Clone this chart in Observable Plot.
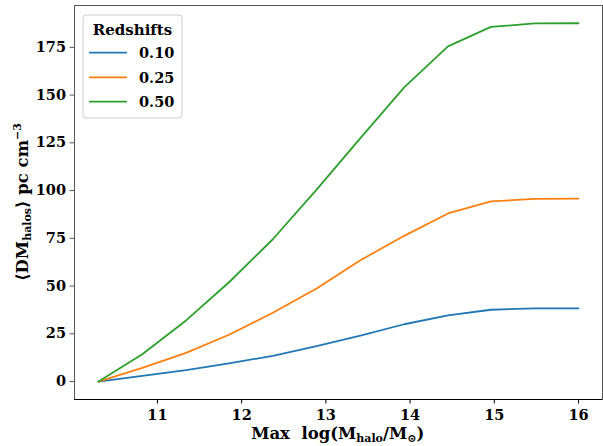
<!DOCTYPE html>
<html><head><meta charset="utf-8">
<script src="https://cdn.jsdelivr.net/npm/d3@7"></script>
<script src="https://cdn.jsdelivr.net/npm/@observablehq/plot@0.6"></script>
<style>body{margin:0;background:#fff}</style>
</head><body><div id="chart"></div>
<script>
const redshifts = ["0.10", "0.25", "0.50"];
const colors = ["#1f77b4", "#ff7f0e", "#2ca02c"];
const logMmax = [10.30, 10.82, 11.34, 11.85, 12.37, 12.89, 13.41, 13.93, 14.45, 14.96, 15.48, 16.00];
const dm010 = [0, 3.0, 6.0, 9.5, 13.5, 18.5, 24.0, 30.0, 34.6, 37.6, 38.3, 38.3];
const dm025 = [0, 7.2, 15.0, 24.5, 36.0, 48.7, 63.5, 76.3, 88.0, 94.3, 95.7, 95.8];
const dm050 = [0, 14.3, 32.0, 52.0, 74.5, 100.5, 127.5, 154.0, 175.5, 185.7, 187.5, 187.6];
const yTicks = [0, 25, 50, 75, 100, 125, 150, 175];
const xTicks = [11, 12, 13, 14, 15, 16];

const series = [dm010, dm025, dm050];
const rows = [];
series.forEach((s, k) => s.forEach((v, i) => rows.push({x: logMmax[i], y: v, z: redshifts[k]})));

const FONT = "'DejaVu Serif', serif";
const yDom = [-9.4, 196.9];
const plot = Plot.plot({
  width: 603, height: 446,
  marginLeft: 74, marginRight: 1, marginTop: 5, marginBottom: 47,
  style: {fontFamily: FONT, fontWeight: "bold", fontSize: "14px", background: "#fff", color: "#000"},
  x: {domain: [10.015, 16.285]},
  y: {domain: yDom},
  color: {domain: redshifts, range: colors},
  marks: [
    Plot.frame({stroke: "#555"}),
    Plot.ruleY([yDom[0]], {stroke: "#000"}),
    Plot.axisX({ticks: xTicks, tickSize: 4.5, tickPadding: 6, label: null, tickFormat: d => String(d), fontSize: 14.5}),
    Plot.axisY({ticks: yTicks, tickSize: 4.5, tickPadding: 4, label: null, tickFormat: d => String(d), fontSize: 14.5, stroke: "#555"}),
    Plot.line(rows, {x: "x", y: "y", stroke: "z", strokeWidth: 1.8})
  ]
});
document.getElementById("chart").appendChild(plot);

const svg = d3.select(plot);
// y label
const yl = svg.append("text")
  .attr("transform", "translate(28,202) rotate(-90)")
  .attr("text-anchor", "middle")
  .attr("font-family", FONT).attr("font-weight", "bold").attr("font-size", 16.5).attr("fill", "#000");
yl.append("tspan").text("⟨DM");
yl.append("tspan").attr("font-size", 11).attr("dy", 3).text("halos");
yl.append("tspan").attr("dy", -3).text("⟩ pc cm");
yl.append("tspan").attr("font-size", 11).attr("dy", -7).text("−3");

// x label
const xl = svg.append("text")
  .attr("x", 337.7).attr("y", 439)
  .attr("text-anchor", "middle")
  .style("white-space", "pre")
  .attr("font-family", FONT).attr("font-weight", "bold").attr("font-size", 16.5).attr("fill", "#000");
xl.append("tspan").text("Max  log(M");
xl.append("tspan").attr("font-size", 11).attr("dy", 2.5).text("halo");
xl.append("tspan").attr("dy", -2.5).text("/M");
xl.append("tspan").attr("font-size", 11).attr("dy", 2.5).text("⊙");
xl.append("tspan").attr("dy", -2.5).text(")");

// legend
const lg = svg.append("g").attr("text-anchor", "start");
lg.append("rect").attr("x", 83).attr("y", 15).attr("width", 99).attr("height", 103)
  .attr("rx", 3).attr("fill", "#fff").attr("fill-opacity", 0.8).attr("stroke", "#ccc");
lg.append("text").attr("x", 132.5).attr("y", 35).attr("text-anchor", "middle")
  .attr("font-family", FONT).attr("font-weight", "bold").attr("font-size", 15).text("Redshifts");
const ly = [52.7, 77.3, 101.7];
redshifts.forEach((r, i) => {
  lg.append("line").attr("x1", 89).attr("x2", 127).attr("y1", ly[i]).attr("y2", ly[i])
    .attr("stroke", colors[i]).attr("stroke-width", 1.8);
  lg.append("text").attr("x", 139).attr("y", ly[i]).attr("dy", "0.37em").attr("text-anchor", "start")
    .attr("font-family", FONT).attr("font-weight", "bold").attr("font-size", 14.5).text(r);
});
</script>
</body></html>
